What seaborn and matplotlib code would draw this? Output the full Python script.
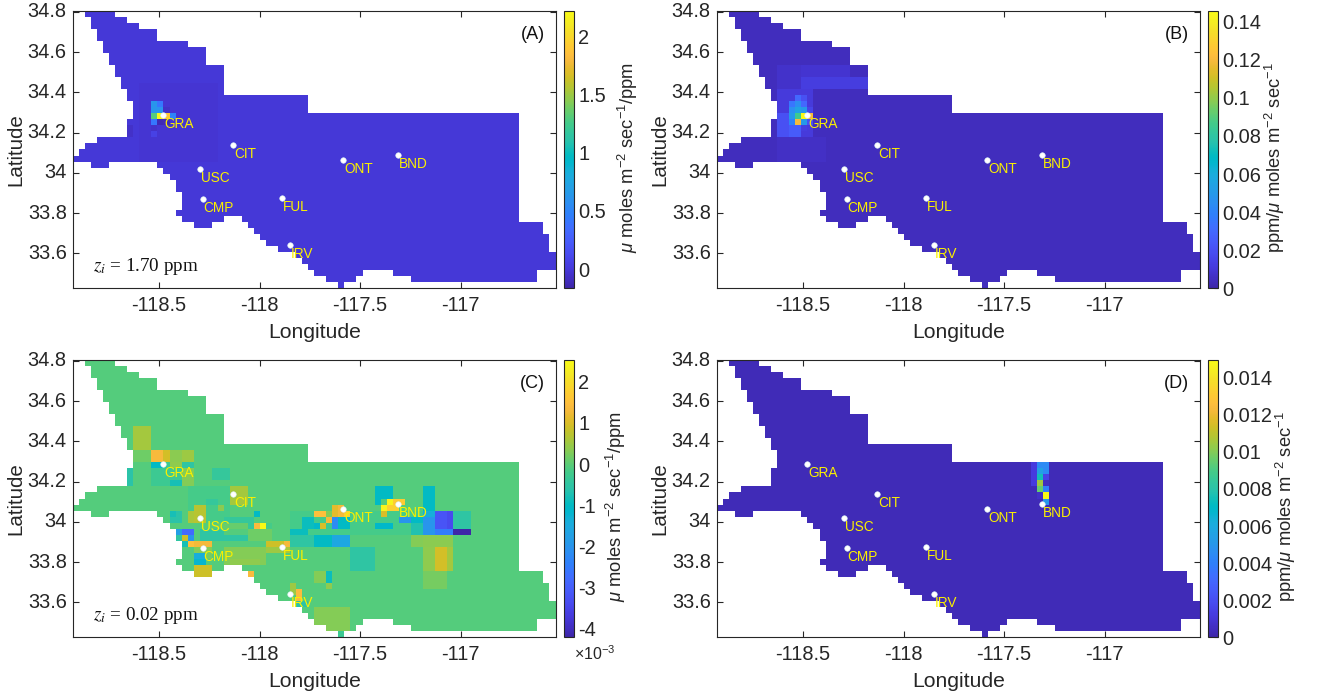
import numpy as np
import pandas as pd
import seaborn as sns
import matplotlib
matplotlib.use("Agg")
import matplotlib.pyplot as plt
from matplotlib.colors import LinearSegmentedColormap

sns.set_style("white")
plt.rcParams['font.family'] = ['Liberation Sans', 'DejaVu Sans']
plt.rcParams['mathtext.fontset'] = 'custom'
plt.rcParams['mathtext.rm'] = 'Liberation Sans'
plt.rcParams['mathtext.it'] = 'Liberation Sans:italic'
plt.rcParams['mathtext.default'] = 'regular'

PARULA = [(0.2422,0.1504,0.6603),(0.2504,0.1650,0.7076),(0.2578,0.1818,0.7511),(0.2647,0.1978,0.7952),
(0.2706,0.2147,0.8364),(0.2751,0.2342,0.8710),(0.2783,0.2559,0.8991),(0.2803,0.2782,0.9221),
(0.2813,0.3006,0.9414),(0.2810,0.3228,0.9579),(0.2795,0.3447,0.9717),(0.2760,0.3667,0.9829),
(0.2699,0.3892,0.9906),(0.2602,0.4123,0.9952),(0.2440,0.4358,0.9988),(0.2206,0.4603,0.9973),
(0.1963,0.4847,0.9892),(0.1834,0.5074,0.9798),(0.1786,0.5289,0.9682),(0.1764,0.5499,0.9520),
(0.1687,0.5703,0.9359),(0.1540,0.5902,0.9218),(0.1460,0.6091,0.9079),(0.1380,0.6276,0.8973),
(0.1248,0.6459,0.8883),(0.1113,0.6635,0.8763),(0.0952,0.6798,0.8598),(0.0689,0.6948,0.8394),
(0.0297,0.7082,0.8163),(0.0036,0.7203,0.7917),(0.0067,0.7312,0.7660),(0.0433,0.7411,0.7394),
(0.0964,0.7500,0.7120),(0.1408,0.7584,0.6842),(0.1717,0.7670,0.6554),(0.1938,0.7758,0.6251),
(0.2161,0.7843,0.5923),(0.2470,0.7918,0.5567),(0.2906,0.7973,0.5188),(0.3406,0.8008,0.4789),
(0.3909,0.8029,0.4354),(0.4456,0.8024,0.3909),(0.5044,0.7993,0.3480),(0.5616,0.7942,0.3045),
(0.6174,0.7876,0.2612),(0.6720,0.7793,0.2227),(0.7242,0.7698,0.1910),(0.7738,0.7598,0.1646),
(0.8203,0.7498,0.1535),(0.8634,0.7406,0.1596),(0.9035,0.7330,0.1774),(0.9393,0.7288,0.2100),
(0.9728,0.7298,0.2394),(0.9956,0.7434,0.2371),(0.9970,0.7659,0.2199),(0.9952,0.7893,0.2028),
(0.9892,0.8136,0.1885),(0.9786,0.8386,0.1766),(0.9676,0.8639,0.1643),(0.9610,0.8890,0.1537),
(0.9597,0.9135,0.1423),(0.9628,0.9373,0.1265),(0.9691,0.9606,0.1064),(0.9769,0.9839,0.0805)]
parula = LinearSegmentedColormap.from_list("parula", PARULA)

LON_WEST, LAT_NORTH, STEP = -118.928, 34.806, 0.03
N_ROWS, N_COLS = 46, 80

row_spans = [[(2,7)],[(3,9)],[(3,11)],[(4,14)],[(4,14)],[(5,19)],[(5,22)],[(6,22)],[(6,22)],[(7,25)],
 [(7,25)],[(8,25)],[(8,25)],[(9,25)],[(9,39)],[(10,39)],[(10,39)],[(10,74)],[(9,74)],[(9,74)],
 [(9,74)],[(4,74)],[(2,74)],[(1,74)],[(0,74)],[(3,6),(14,74)],[(15,74)],[(16,74)],[(17,74)],[(17,74)],
 [(18,74)],[(18,74)],[(18,74)],[(17,74)],[(18,25),(28,74)],[(20,23),(29,78)],[(30,78)],[(31,79)],[(32,79)],[(34,79)],
 [(37,80)],[(38,80)],[(39,80)],[(40,48),(53,77)],[(42,47),(56,77)],[(44,45)]]

# blocks of grid values: first row, end row, first column, end column, value
a_base = 0.0
a_blocks = [(12,25,11,24,-0.02),(15,17,13,14,0.62),(15,16,14,15,0.42),(16,17,14,15,0.6),(16,17,15,16,-0.06),
 (17,18,13,14,1.3),(17,18,14,15,2.2),(17,18,15,16,1.9),(17,18,16,17,0.5),(18,19,13,14,0.42),
 (18,19,14,15,-0.12),(18,19,15,16,-0.1),(19,21,9,10,-0.06),(19,20,13,14,-0.05),(20,21,13,14,0.06)]

b_base = 0.004
b_blocks = [(9,13,10,14,0.007),(9,11,14,22,0.008),(11,13,14,25,0.012),(13,21,10,16,0.011),(21,25,10,18,0.006),
 (17,21,10,12,0.02),(14,15,13,14,0.03),(14,15,14,15,0.02),(15,16,12,13,0.035),(15,16,13,14,0.045),
 (15,16,14,15,0.03),(16,17,12,13,0.045),(16,17,13,14,0.055),(16,17,14,15,0.05),(16,17,15,16,0.015),
 (17,18,12,13,0.05),(17,18,13,14,0.085),(17,18,14,15,0.146),(17,18,15,16,0.12),(18,19,12,13,0.04),
 (18,19,13,14,0.12),(18,19,14,15,0.05),(18,19,15,16,0.02),(19,21,12,14,0.025),(19,20,14,15,0.012)]

c_base = -0.05
c_blocks = [(11,15,10,13,0.55),(15,17,10,13,0.15),(15,17,13,15,1.35),(15,17,15,16,0.95),(15,17,16,18,0.35),
 (15,17,18,20,0.5),(17,18,13,15,-1.0),(17,18,15,16,-0.3),(17,18,16,18,0.4),(17,18,18,20,-0.5),
 (18,21,9,10,-0.6),(18,21,13,18,-0.3),(20,21,16,18,-0.8),(18,21,18,20,0.3),(18,20,23,26,-0.4),
 (21,24,26,29,0.55),(21,22,21,22,0.3),(21,27,19,26,-0.2),(24,27,20,22,0.7),(25,27,19,20,0.6),
 (25,27,16,18,-0.6),(25,26,16,17,-0.8),(23,24,22,24,-0.4),(26,28,25,30,-0.4),(28,29,21,25,-0.5),
 (29,30,21,29,-0.5),(28,30,29,33,0.15),(27,28,24,29,0.1),(24,25,24,25,0.35),
 (25,26,30,31,-1.0),(27,28,30,31,1.4),(27,28,31,32,2.5),
 (27,28,32,33,-0.2),(28,29,17,18,-1.8),(28,29,18,20,-2.8),(29,30,17,18,-0.5),(29,30,18,19,0.9),
 (29,30,19,20,-2.0),(30,31,18,19,-0.8),(30,31,19,20,1.5),(30,31,20,23,1.3),(31,32,20,23,0.3),
 (32,33,20,22,-1.4),(32,33,22,23,0.2),(33,34,20,22,-1.2),(34,36,20,23,0.9),(36,37,20,23,0.15),
 (31,34,25,32,0.3),(31,32,32,36,0.5),(33,34,26,31,0.4),(35,36,29,30,1.4),(30,31,32,35,0.9),
 (30,31,35,37,1.3),(31,32,35,36,0.6),(25,29,36,60,-0.2),(28,29,36,39,-0.9),(26,28,38,40,-0.9),
 (25,26,40,42,1.5),(25,26,42,43,0.3),(24,26,43,44,1.1),(24,26,44,45,1.3),(25,26,45,46,1.8),
 (26,27,42,43,1.3),(26,28,43,44,-2.2),(26,28,44,46,-1.0),(27,28,40,41,-1.1),
 (27,28,41,42,1.0),(27,28,42,43,-0.3),(29,31,36,40,-0.5),(29,31,40,43,-1.0),(29,31,43,46,-1.6),
 (31,35,46,50,-0.5),(35,37,40,42,0.3),(35,37,42,43,-0.9),(37,38,42,43,0.4),
 (37,39,36,37,0.5),(38,40,37,38,1.4),(40,41,37,39,-0.6),(41,45,40,46,0.3),(45,46,44,45,-0.3),
 (21,23,50,53,-1.0),(23,24,50,51,-1.0),(23,24,52,53,2.4),(23,24,53,55,1.7),(24,25,51,52,2.4),
 (24,25,52,54,1.8),(25,26,51,52,1.0),(26,27,54,56,-2.0),(26,27,56,58,-1.0),(27,28,50,53,-1.1),
 (27,29,56,58,-0.7),(21,25,58,60,-1.0),(25,28,58,60,-1.4),(26,28,58,60,-2.0),(25,28,60,62,-3.2),(25,28,62,63,-3.4),
 (25,28,63,66,-0.5),(28,29,60,63,-2.5),(28,29,58,60,-2.0),(28,29,63,66,-4.2),(31,35,60,62,0.95),
 (31,35,58,60,0.4),(31,35,62,63,0.55),(29,31,58,63,0.35),(29,31,56,58,0.3),(35,38,58,62,0.2)]

d_base = 0.0003
d_blocks = [(17,21,52,53,0.0012),(17,18,53,54,0.0045),(17,18,54,55,0.0045),(18,19,53,54,0.0055),(18,19,54,55,0.0045),
 (19,20,53,54,0.0075),(19,20,54,55,0.0015),(20,21,53,54,0.0105),(20,21,54,55,0.0005),(21,22,53,54,0.0095),
 (21,22,54,55,0.004),(22,23,53,54,0.0006),(22,23,54,55,0.015),(23,24,54,55,0.005)]

stations = ["GRA","CIT","USC","CMP","FUL","IRV","ONT","BND"]
st_lon = [-118.478,-118.132,-118.294,-118.282,-117.888,-117.848,-117.584,-117.312]
st_lat = [34.287,34.137,34.02,33.87,33.877,33.64,34.065,34.09]

lon_ticks = [-118.5,-118,-117.5,-117]
lat_ticks = [34.8,34.6,34.4,34.2,34,33.8,33.6]
a_cb = [0,0.5,1,1.5,2]
b_cb = [0,0.02,0.04,0.06,0.08,0.1,0.12,0.14]
c_cb = [-4,-3,-2,-1,0,1,2]
d_cb = [0,0.002,0.004,0.006,0.008,0.01,0.012,0.014]

DARK = "#262626"
W, H = 1318, 698
fig = plt.figure(figsize=(W/100, H/100), dpi=100)

def box(x0, y0, x1, y1):
    return [x0/W, 1-y1/H, (x1-x0)/W, (y1-y0)/H]

def grid(base, blocks):
    g = np.full((N_ROWS, N_COLS), base, dtype=float)
    for r0, r1, c0, c1, v in blocks:
        g[r0:r1, c0:c1] = v
    return g

inside = np.zeros((N_ROWS, N_COLS), dtype=bool)
for i, spans in enumerate(row_spans):
    for c0, c1 in spans:
        inside[i, c0:c1] = True

def to_x(lon):
    return (np.asarray(lon) - LON_WEST) / STEP

def to_y(lat):
    return (LAT_NORTH - np.asarray(lat)) / STEP

def panel(x0, y0, base, blocks, vmin, vmax, cb_ticks, cb_label, cb_pad, letter, note=None):
    ax = fig.add_axes(box(x0, y0, x0+482.5, y0+277.6))
    cax = fig.add_axes(box(x0+491, y0, x0+501, y0+277.6))
    df = pd.DataFrame(grid(base, blocks))
    sns.heatmap(df, ax=ax, cbar_ax=cax, cmap=parula, vmin=vmin, vmax=vmax, mask=~inside,
                xticklabels=False, yticklabels=False, cbar_kws={"ticks": cb_ticks})
    ax.set_xticks(to_x(lon_ticks))
    ax.set_xticklabels([f"{v:g}" for v in lon_ticks])
    ax.set_yticks(to_y(lat_ticks))
    ax.set_yticklabels([f"{v:g}" for v in lat_ticks], rotation=0, va="center")
    ax.tick_params(direction="in", top=True, right=True, bottom=True, left=True, length=4,
                   width=0.8, color=DARK, labelsize=14.4, labelcolor=DARK)
    ax.tick_params(axis="x", pad=5.2)
    ax.tick_params(axis="y", pad=4.5)
    ax.set_xlabel("Longitude", fontsize=15.2, color=DARK, labelpad=6)
    ax.set_ylabel("Latitude", fontsize=14.8, color=DARK, labelpad=1.5)
    for s in ax.spines.values():
        s.set_visible(True); s.set_color(DARK); s.set_linewidth(0.8)
    sns.scatterplot(x=to_x(st_lon), y=to_y(st_lat), ax=ax, color="white", s=16,
                    edgecolor="#d8f0f5", linewidth=0.4, zorder=5, legend=False)
    for n, xx, yy in zip(stations, to_x(st_lon), to_y(st_lat)):
        ax.annotate(n, (xx, yy), xytext=(0.6, -6.6), textcoords="offset points", color="#fbf000",
                    fontsize=9.8, va="center", ha="left", zorder=6)
    ax.text(0.978, 0.915, letter, transform=ax.transAxes, fontsize=13, color="#111111", ha="right", va="center")
    if note:
        ax.text(0.041, 0.08, note, transform=ax.transAxes, fontsize=13.8, color="#111111", ha="left", va="center",
                family="Liberation Serif", math_fontfamily="stix")
    cb = ax.collections[0].colorbar
    cb.outline.set_linewidth(0.8); cb.outline.set_edgecolor(DARK); cb.outline.set_visible(True)
    cb.set_ticklabels([f"{v:g}" for v in cb_ticks])
    cax.tick_params(direction="in", length=3, width=0.8, color=DARK, labelsize=14.4, labelcolor=DARK, pad=3, right=True, left=False)
    cb.set_label(cb_label, fontsize=13.2, color=DARK, labelpad=cb_pad)
    cax.yaxis.label.set_y(0.47)
    return ax, cax

lab1 = r"$\mathit{\mu}$ moles m$^{-2}$ sec$^{-1}$/ppm"
lab2 = r"ppm/$\mathit{\mu}$ moles m$^{-2}$ sec$^{-1}$"
panel(73, 10.7, a_base, a_blocks, -0.164, 2.22, a_cb, lab1, 7, "(A)", r"$\mathit{z}_{\mathit{i}}$ = 1.70 ppm")
panel(717, 10.7, b_base, b_blocks, 0, 0.1458, b_cb, lab2, 1.5, "(B)")
ax_c, cax_c = panel(73, 359.7, c_base, c_blocks, -4.22, 2.54, c_cb, lab1, 5.5, "(C)", r"$\mathit{z}_{\mathit{i}}$ = 0.02 ppm")
panel(717, 359.7, d_base, d_blocks, 0, 0.01497, d_cb, lab2, 1.5, "(D)")
cax_c.text(0.95, -0.06, r"$\times 10^{-3}$", transform=cax_c.transAxes, fontsize=11.5, color=DARK, ha="left", va="center")

fig.savefig("out.png", dpi=100, facecolor="white")
